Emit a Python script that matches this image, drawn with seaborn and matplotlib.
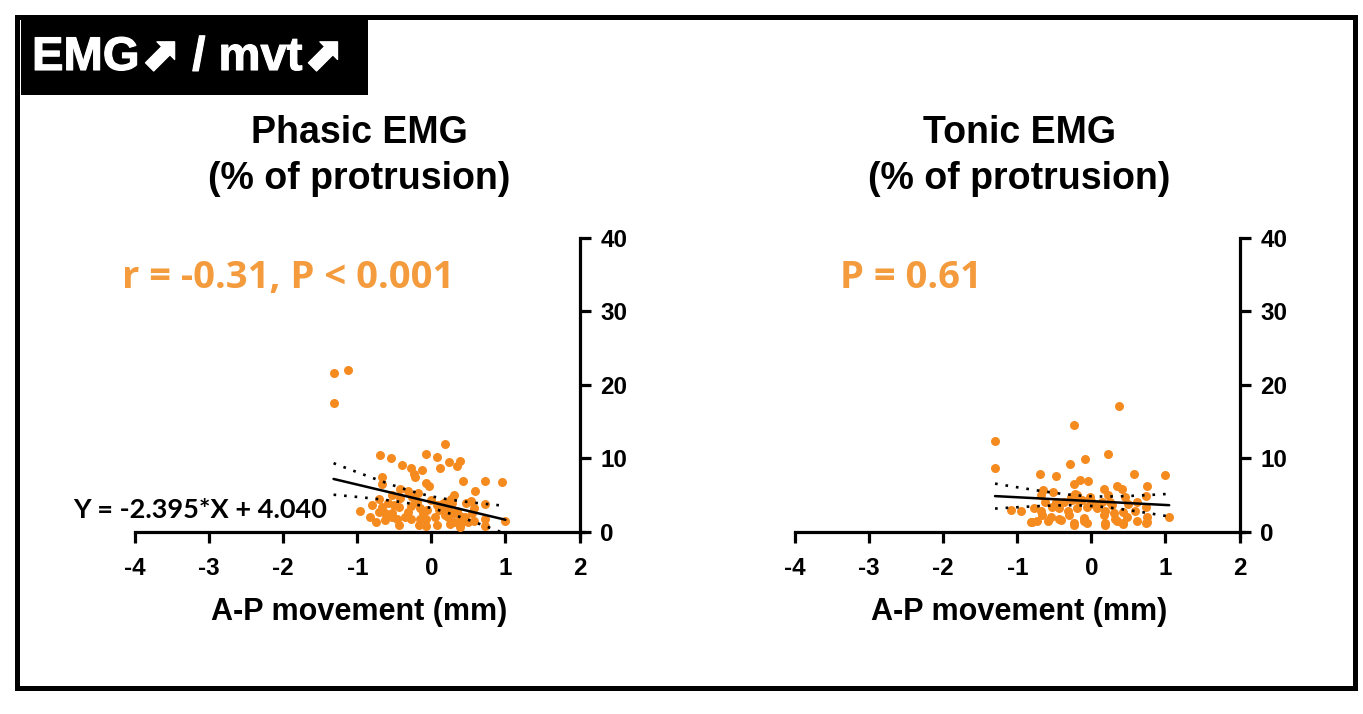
import numpy as np
import matplotlib
matplotlib.use("Agg")
import matplotlib.pyplot as plt
import matplotlib.patches as mpatches
import matplotlib.patheffects as pe
import seaborn as sns

# ── Style ─────────────────────────────────────────────────────
sns.set_style("ticks")
plt.rcParams['font.family'] = ['Liberation Sans', 'DejaVu Sans']
plt.rcParams.update({'font.weight': 'bold', 'text.color': 'black',
                     'axes.labelcolor': 'black', 'xtick.color': 'black',
                     'ytick.color': 'black', 'axes.edgecolor': 'black',
                     'axes.unicode_minus': False})

DOT = "#F58A1F"
NOTE = "#F39B3D"

# ── Data ──────────────────────────────────────────────────────
phasic_x = [-1.32, -1.12, -1.31,
            0.18, -0.70, -0.54, -0.07, 0.07, 0.24, 0.39,
            -0.40, -0.28, -0.13, 0.12, 0.35,
            -0.23, -0.22, -0.67, -0.67, -0.07, -0.03, 0.43, 0.72, 0.96,
            -0.43, -0.31, -0.53, -0.18, 0.59, 0.31,
            -0.71, -0.42, -0.26, 0.00, 0.19, 0.28, 0.47, 0.53, 0.72,
            -0.80, -0.66, -0.51, -0.44, -0.28, -0.15, -0.06, 0.07, 0.10, 0.16, 0.34, 0.58,
            -0.96, -0.71, -0.62, -0.53, -0.31, -0.11, 0.18, 0.23, 0.38, 0.45, 0.72, 1.00,
            -0.83, -0.75, -0.63, -0.53, -0.27, -0.15, -0.07,
            -0.44, -0.17, -0.07, 0.07, 0.25, 0.31, 0.38, 0.50, 0.58, 0.72,
            0.15, 0.22, 0.30, 0.26, 0.40, 0.55, 0.05, -0.20, -0.35, -0.58, -0.47]
phasic_y = [21.6, 22.1, 17.6,
            12.0, 10.4, 10.1, 10.6, 10.2, 9.5, 9.7,
            9.1, 8.7, 8.4, 8.7, 8.9,
            7.9, 7.4, 7.5, 6.5, 6.7, 6.3, 6.9, 6.9, 6.8,
            5.8, 5.5, 5.0, 5.3, 5.5, 5.0,
            4.5, 4.6, 4.7, 4.4, 4.1, 3.9, 3.9, 4.2, 3.8,
            3.6, 3.4, 3.6, 3.4, 3.5, 3.2, 3.0, 3.6, 3.0, 3.4, 2.9, 3.2,
            2.9, 2.7, 2.6, 2.5, 2.7, 2.6, 2.3, 2.0, 2.1, 2.0, 1.8, 1.5,
            2.0, 1.4, 1.6, 2.0, 1.7, 1.7, 1.7,
            0.9, 0.9, 0.8, 0.9, 1.1, 1.4, 0.6, 1.4, 1.5, 0.8,
            3.8, 3.2, 2.6, 4.5, 1.2, 2.5, 2.0, 4.0, 2.0, 3.9, 1.8]
phasic_slope = -2.395
phasic_intercept = 4.040

tonic_x = [-1.30, -1.30, 0.37, -0.24, 0.23, -0.09, -0.29, -0.69, -0.48, 0.57, 1.00,
           -0.15, -0.05, -0.24, 0.75,
           -0.65, -0.52, 0.17, 0.34, 0.42,
           -0.22, -0.20, -0.68, -0.28, -0.26, -0.17, 0.22, 0.45, 0.74,
           -0.62, -0.48, -0.37, 0.00, 0.14, 0.25, 0.50, 0.61,
           -1.09, -0.95, -0.78, -0.68, -0.53, -0.44, -0.32, -0.20, -0.06, 0.08, 0.19, 0.30, 0.43, 0.59, 0.74,
           -0.66, -0.55, -0.44, -0.30, -0.10, 0.17, 0.32, 0.48, 0.75, 1.05,
           -0.81, -0.73, -0.59, -0.41, -0.24, -0.10, -0.06, 0.19, 0.34, 0.43, 0.61, 0.75,
           -0.80, -0.24, 0.19, 0.43, 0.74,
           -0.18, -0.12, -0.02, 0.28, 0.05]
tonic_y = [12.4, 8.7, 17.1, 14.5, 10.6, 9.9, 9.3, 7.9, 7.6, 7.9, 7.7,
           7.1, 6.9, 6.5, 6.2,
           5.7, 5.4, 5.8, 6.2, 5.9,
           5.2, 5.0, 5.0, 4.8, 4.3, 4.2, 5.0, 4.7, 4.9,
           4.0, 4.1, 4.0, 4.2, 4.0, 4.0, 3.8, 4.0,
           3.0, 2.9, 3.2, 2.9, 3.4, 3.2, 2.9, 3.2, 3.4, 3.3, 2.9, 2.6, 2.7, 2.9, 3.4,
           2.3, 2.0, 1.8, 2.3, 1.9, 2.3, 1.8, 2.0, 2.0, 2.0,
           1.4, 1.5, 1.5, 1.6, 1.2, 1.5, 1.2, 1.2, 1.5, 1.2, 1.5, 1.3,
           1.4, 1.0, 0.9, 1.1, 1.2,
           4.6, 4.4, 4.7, 3.6, 3.7]

x_ticks = [-4, -3, -2, -1, 0, 1, 2]
y_ticks = [0, 10, 20, 30, 40]
titles = ["Phasic EMG\n(% of protrusion)", "Tonic EMG\n(% of protrusion)"]
notes = ["r = -0.31, P < 0.001", "P = 0.61"]
equation = "Y = -2.395*X + 4.040"


def ci_band(x, y, slope, intercept, xs):
    # 95% confidence band of the fitted line
    x = np.asarray(x); y = np.asarray(y)
    n = len(x)
    resid = y - (slope * x + intercept)
    s = np.sqrt(np.sum(resid ** 2) / (n - 2))
    sxx = np.sum((x - x.mean()) ** 2)
    se = s * np.sqrt(1.0 / n + (xs - x.mean()) ** 2 / sxx)
    fit = slope * xs + intercept
    return fit, fit - 1.98 * se, fit + 1.98 * se


# ── Figure ────────────────────────────────────────────────────
W, H = 1363, 714
fig = plt.figure(figsize=(W / 100, H / 100), dpi=100)

panels = [
    (phasic_x, phasic_y, phasic_slope, phasic_intercept, 135),
    (tonic_x, tonic_y, None, None, 795),
]

for i, (px, py, slope, icpt, left_px) in enumerate(panels):
    ax = fig.add_axes([left_px / W, 1 - 537 / H, 449 / W, 299 / H])
    if slope is None:
        slope, icpt = np.polyfit(px, py, 1)
    xs = np.linspace(min(px), max(px), 50)
    fit, lo, hi = ci_band(px, py, slope, icpt, xs)

    sns.scatterplot(x=px, y=py, ax=ax, color=DOT, s=42, linewidth=0, zorder=3)
    sns.lineplot(x=xs, y=fit, ax=ax, color='black', lw=1.8, zorder=4)
    for band in (lo, hi):
        sns.lineplot(x=xs, y=band, ax=ax, color='black', lw=1.9,
                     linestyle=(0, (1, 3)), zorder=4)

    ax.set_xlim(-4, 2.06)
    ax.set_ylim(-0.7, 40)
    ax.set_xticks(x_ticks)
    ax.set_yticks(y_ticks)
    ax.spines['left'].set_visible(False)
    ax.spines['top'].set_visible(False)
    ax.spines['bottom'].set_position(('data', 0))
    ax.spines['right'].set_position(('data', 2))
    for sp in ('bottom', 'right'):
        ax.spines[sp].set_linewidth(2.3)
    ax.yaxis.tick_right()
    ax.tick_params(width=2.3, length=8, labelsize=17.5)
    ax.tick_params(axis='x', pad=10)
    ax.tick_params(axis='y', pad=7)
    for lab in ax.get_xticklabels() + ax.get_yticklabels():
        lab.set_fontweight('bold')
    ax.set_xlabel("A-P movement (mm)", fontsize=22, fontweight='bold', labelpad=12)
    ax.set_ylabel("")

    cx = (left_px + 449 / 2) / W
    fig.text(cx, 1 - 156 / H, titles[i], ha='center', va='center',
             fontsize=27, fontweight='bold', linespacing=1.36)

fig.text(122 / W, 1 - 278 / H, notes[0], ha='left', va='center', color=NOTE,
         fontsize=27.5, fontweight='bold', family=['Open Sans', 'DejaVu Sans'])
fig.text(840 / W, 1 - 278 / H, notes[1], ha='left', va='center', color=NOTE,
         fontsize=27.5, fontweight='bold', family=['Open Sans', 'DejaVu Sans'])
fig.text(73 / W, 1 - 510 / H, equation, ha='left', va='center', color='black',
         fontsize=19.5, fontweight='bold', family=['Lato', 'DejaVu Sans'])

# header box and outer frame
fig.patches.append(mpatches.Rectangle((21 / W, 1 - 95 / H), 347 / W, 75 / H,
                                      transform=fig.transFigure, facecolor='black',
                                      edgecolor='none', zorder=0))
fig.text(32 / W, 1 - 58 / H, "EMG\u2b08 / mvt\u2b08", ha='left', va='center',
         color='white', fontsize=34, fontweight='bold',
         path_effects=[pe.withStroke(linewidth=0.8, foreground='white')])
fig.patches.append(mpatches.Rectangle((17 / W, 1 - 688 / H), 1338 / W, 671 / H,
                                      transform=fig.transFigure, facecolor='none',
                                      edgecolor='black', lw=3.6, zorder=5))

fig.savefig("out.png", dpi=100)
